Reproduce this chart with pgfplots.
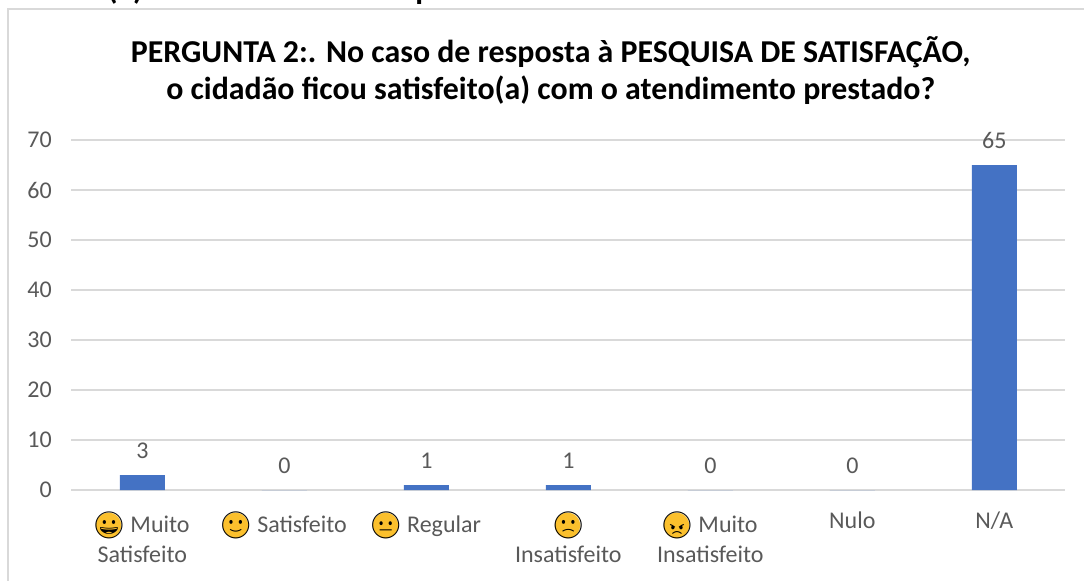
\documentclass[border=0pt]{standalone}
\usepackage{pgfplots}
\pgfplotsset{compat=1.18}
\usepackage{fontspec}
\setmainfont{Carlito}
\newfontfamily\emojifont{Noto Emoji}
\newfontfamily\symfont{DejaVu Sans}
\definecolor{bar}{HTML}{4472C4}
\definecolor{txt}{HTML}{595959}
\definecolor{gridc}{HTML}{D9D9D9}
\definecolor{emo}{HTML}{FBC02D}
\newcommand{\emo}[1]{\strut\raisebox{-1.5pt}{\smash{\makebox[21pt]{\makebox[0pt]{\fontsize{25pt}{25pt}\symfont\textcolor{emo}{●}}\makebox[0pt]{\fontsize{20pt}{20pt}\emojifont\textcolor{black}{#1}}}}}\hspace{1.5pt}}
\begin{document}
\begin{tikzpicture}
\path[use as bounding box] (0pt,0pt) rectangle (813pt,-435.75pt);
\draw[gridc,line width=1pt] (6pt,-435.75pt) -- (6pt,-6.75pt) -- (813pt,-6.75pt);
\node[font=\bfseries\fontsize{23.9pt}{27.75pt}\selectfont,black,anchor=base] at (94pt,0pt) {(a)};
\node[font=\bfseries\fontsize{23.9pt}{27.75pt}\selectfont,black,anchor=base] at (318pt,0pt) {p};
\node[font=\bfseries\fontsize{23.9pt}{27.75pt}\selectfont,black,align=center] at (413pt,-53.25pt)
  {PERGUNTA 2:. No caso de resposta à PESQUISA DE SATISFAÇÃO,\\o cidadão ficou satisfeito(a) com o atendimento prestado?};
\begin{axis}[
  at={(53.5pt,-367.5pt)},anchor=south west,
  scale only axis,width=745.5pt,height=262.5pt,
  xmin=-0.5,xmax=6.5,ymin=0,ymax=70,
  axis x line=bottom,axis y line=left,
  x axis line style={draw=gridc,line width=1pt,-},
  y axis line style={draw=none},
  ymajorgrids,grid style={draw=gridc,line width=1pt},
  ytick={0,10,...,70},
  xtick={0,...,6},
  xtick style={draw=none},ytick style={draw=none},
  xticklabels={{\emo{😀} Muito\\Satisfeito},{\emo{🙂} Satisfeito},{\emo{😐} Regular},{\emo{🙁}\\Insatisfeito},{\emo{😠} Muito\\Insatisfeito},{Nulo},{N/A}},
  xticklabel style={font=\fontsize{18pt}{22.5pt}\selectfont,text=txt,align=center,anchor=north,yshift=-8.5pt},
  yticklabel style={font=\fontsize{18pt}{18pt}\selectfont,text=txt,xshift=-9pt},
  /pgf/number format/assume math mode=true,
  clip=false,
  ybar,bar width=33.75pt,
  nodes near coords,
  every node near coord/.append style={font=\fontsize{18pt}{18pt}\selectfont,text=txt,yshift=9pt},
]
\addplot[fill=bar,draw=none] coordinates {(0,3)(1,0)(2,1)(3,1)(4,0)(5,0)(6,65)};
\end{axis}
\end{tikzpicture}
\end{document}
